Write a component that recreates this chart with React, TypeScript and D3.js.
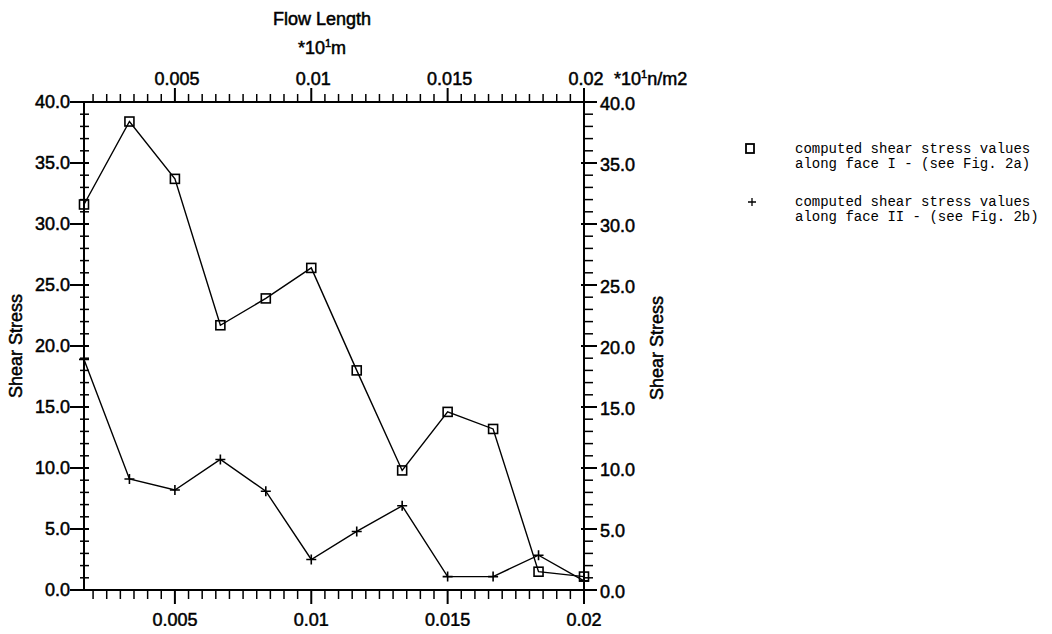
import React, { useEffect, useRef } from "react"
import * as d3 from "d3"

// flow length (*10^1 m) at each computed station
const flowLength = [0.001667, 0.003333, 0.005, 0.006667, 0.008333, 0.01, 0.011667, 0.013333, 0.015, 0.016667, 0.018333, 0.02]
// shear stress (*10^1 n/m2) along face I and face II
const faceOne = [31.6, 38.4, 33.7, 21.7, 23.9, 26.4, 18.0, 9.8, 14.6, 13.2, 1.5, 1.1]
const faceTwo = [18.9, 9.1, 8.2, 10.7, 8.1, 2.5, 4.8, 6.9, 1.1, 1.1, 2.85, 0.75]

const xMajorTicks = [0.005, 0.01, 0.015, 0.02]
const xTickLabels = ["0.005", "0.01", "0.015", "0.02"]
const yMajorTicks = [0, 5, 10, 15, 20, 25, 30, 35, 40]
const legendOne = ["computed shear stress values", "along face I - (see Fig. 2a)"]
const legendTwo = ["computed shear stress values", "along face II - (see Fig. 2b)"]

const FONT = "'Liberation Sans', Arial, sans-serif"
const MONO = "'Liberation Mono', 'DejaVu Sans Mono', monospace"

function Chart() {
    const ref = useRef<SVGSVGElement>(null)

    useEffect(() => {
        const svg = d3.select(ref.current)
        svg.selectAll("*").remove()

        const left = 84, right = 584, top = 102, bottom = 590

        const x = d3.scaleLinear()
            .domain([flowLength[0], flowLength[flowLength.length - 1]])
            .range([left, right])
        const y = d3.scaleLinear()
            .domain([0, 40])
            .range([bottom, top])

        const minorX = d3.range(0.002, 0.02, 0.0005).filter(v => !xMajorTicks.some(m => Math.abs(m - v) < 1e-7))
        const minorY = d3.range(1, 40, 1).filter(v => v % 5 !== 0)

        const g = svg.append("g")
            .attr("stroke", "black")
            .attr("fill", "none")

        // frame
        g.append("rect")
            .attr("x", left).attr("y", top)
            .attr("width", right - left).attr("height", bottom - top)
            .attr("stroke-width", 2)

        // bottom + top ticks
        minorX.forEach(v => {
            g.append("line").attr("x1", x(v)).attr("x2", x(v)).attr("y1", bottom).attr("y2", bottom + 9).attr("stroke-width", 1.5)
            g.append("line").attr("x1", x(v)).attr("x2", x(v)).attr("y1", top).attr("y2", top - 8).attr("stroke-width", 1.5)
        })
        xMajorTicks.forEach(v => {
            g.append("line").attr("x1", x(v)).attr("x2", x(v)).attr("y1", bottom).attr("y2", bottom + 14).attr("stroke-width", 2)
            g.append("line").attr("x1", x(v)).attr("x2", x(v)).attr("y1", top).attr("y2", top - 14).attr("stroke-width", 2)
        })

        // left + right ticks
        minorY.forEach(v => {
            g.append("line").attr("x1", left - 4).attr("x2", left + 5).attr("y1", y(v)).attr("y2", y(v)).attr("stroke-width", 1.5)
            g.append("line").attr("x1", right).attr("x2", right + 9).attr("y1", y(v)).attr("y2", y(v)).attr("stroke-width", 1.5)
        })
        yMajorTicks.forEach(v => {
            g.append("line").attr("x1", left - 14).attr("x2", left + 5).attr("y1", y(v)).attr("y2", y(v)).attr("stroke-width", 2)
            g.append("line").attr("x1", right - 3).attr("x2", right + 13).attr("y1", y(v)).attr("y2", y(v)).attr("stroke-width", 2)
        })

        const txt = svg.append("g")
            .attr("font-family", FONT)
            .attr("font-size", 18)
            .attr("fill", "black")
            .attr("stroke", "black")
            .attr("stroke-width", 0.5)

        xMajorTicks.forEach((v, i) => {
            txt.append("text").attr("x", x(v)).attr("y", 626).attr("text-anchor", "middle").text(xTickLabels[i])
            txt.append("text").attr("x", x(v) + 2).attr("y", 85).attr("text-anchor", "middle").text(xTickLabels[i])
        })
        const fmt = d3.format(".1f")
        yMajorTicks.forEach(v => {
            txt.append("text").attr("x", left - 14).attr("y", y(v)).attr("dy", "0.35em").attr("text-anchor", "end").text(fmt(v))
            txt.append("text").attr("x", right + 16).attr("y", y(v) + 2).attr("dy", "0.35em").text(fmt(v))
        })

        // titles
        txt.append("text").attr("x", 322).attr("y", 25).attr("text-anchor", "middle").text("Flow Length")
        const unit = txt.append("text").attr("x", 322).attr("y", 54).attr("text-anchor", "middle")
        unit.append("tspan").text("*10")
        unit.append("tspan").attr("font-size", 11).attr("dy", -7).text("1")
        unit.append("tspan").attr("dy", 7).text("m")

        const unitY = txt.append("text").attr("x", 614).attr("y", 85)
        unitY.append("tspan").text("*10")
        unitY.append("tspan").attr("font-size", 11).attr("dy", -7).text("1")
        unitY.append("tspan").attr("dy", 7).text("n/m2")

        txt.append("text").attr("transform", "translate(22,346) rotate(-90)").attr("text-anchor", "middle").text("Shear Stress")
        txt.append("text").attr("transform", "translate(663,348) rotate(-90)").attr("text-anchor", "middle").text("Shear Stress")

        // series lines
        const line = d3.line<number>()
            .x((d, i) => x(flowLength[i]))
            .y(d => y(d))

        g.append("path").datum(faceOne).attr("d", line).attr("stroke-width", 1.4)
        g.append("path").datum(faceTwo).attr("d", line).attr("stroke-width", 1.4)

        const s = 4.5
        faceOne.forEach((d, i) => {
            g.append("rect")
                .attr("x", x(flowLength[i]) - s).attr("y", y(d) - s)
                .attr("width", 2 * s).attr("height", 2 * s)
                .attr("stroke-width", 1.6)
        })
        const p = 5
        faceTwo.forEach((d, i) => {
            const cx = x(flowLength[i]), cy = y(d)
            g.append("path")
                .attr("d", `M${cx - p},${cy}H${cx + p}M${cx},${cy - p}V${cy + p}`)
                .attr("stroke-width", 1.6)
        })

        // legend
        g.append("rect").attr("x", 746).attr("y", 144).attr("width", 8).attr("height", 9).attr("stroke-width", 1.8)
        g.append("path").attr("d", "M748,202H756M752,198V206").attr("stroke-width", 1.3)

        const leg = svg.append("g")
            .attr("font-family", MONO)
            .attr("font-size", 14)
            .attr("fill", "black")
        legendOne.forEach((t, i) => {
            leg.append("text").attr("x", 795).attr("y", 153 + i * 15).attr("xml:space", "preserve").text(t)
        })
        legendTwo.forEach((t, i) => {
            leg.append("text").attr("x", 795).attr("y", 206 + i * 15).attr("xml:space", "preserve").text(t)
        })
    }, [])

    return <svg ref={ref} width={1052} height={634} style={{ display: "block", background: "white" }} />
}

export default function App() {
    return (
        <div style={{ margin: -8 }}>
            <Chart />
        </div>
    )
}
